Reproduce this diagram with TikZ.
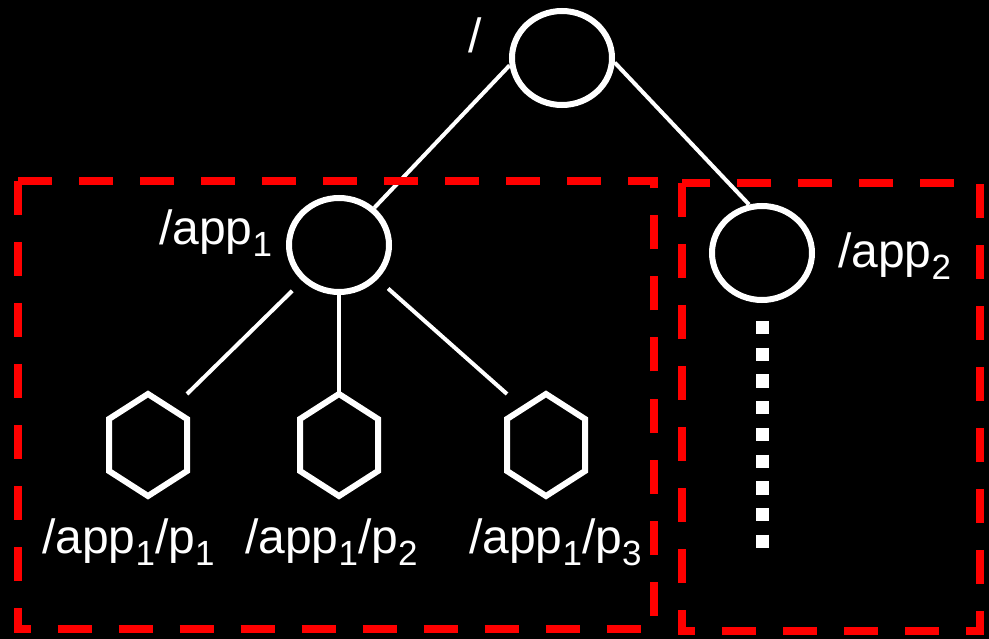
\documentclass[tikz,border=0pt]{standalone}
\usepackage{fontspec}
\setmainfont{Liberation Sans}
\usetikzlibrary{shapes.geometric}

% lowered index in the path labels
\newcommand{\subidx}[1]{\raisebox{-12pt}{\fontsize{35}{35}\selectfont #1}}

\begin{document}
\begin{tikzpicture}[
  x=1pt, y=-1pt,
  circ/.style={ellipse, draw=white, line width=6pt, minimum width=100pt, minimum height=94pt, inner sep=0pt},
  hexline/.style={draw=white, line width=6pt},
  hexbox/.style={minimum width=78pt, minimum height=102pt, inner sep=0pt, outer sep=0pt,
    append after command={(\tikzlastnode.north) -- ([yshift=-25pt]\tikzlastnode.north east)
      -- ([yshift=25pt]\tikzlastnode.south east) -- (\tikzlastnode.south)
      -- ([yshift=25pt]\tikzlastnode.south west) -- ([yshift=-25pt]\tikzlastnode.north west) -- cycle}},
  link/.style={draw=white, line width=4pt},
  dotline/.style={draw=white, line width=13pt, dash pattern=on 13.3pt off 13.4pt},
  groupbox/.style={draw=red, line width=8pt, dash pattern=on 34pt off 27pt},
  lbl/.style={text=white, inner sep=0pt, anchor=base west, font=\fontsize{48}{56}\selectfont}
]
  \useasboundingbox[fill=black] (0,0) rectangle (989,639);

  % tree
  \node[circ] (root) at (562,58) {};
  \node[circ] (app1) at (339,245) {};
  \node[circ] (app2) at (762,253) {};
  \draw[hexline] (148,445) node[hexbox] (p1) {};
  \draw[hexline] (339,445) node[hexbox] (p2) {};
  \draw[hexline] (546,445) node[hexbox] (p3) {};
  \coordinate (dotend) at (762,548);

  % labels
  \node[lbl] (lroot) at (468,53) {/};
  \node[lbl] (lapp1) at (159,245) {/app\subidx{1}};
  \node[lbl] (lapp2) at (838,268) {/app\subidx{2}};
  \node[lbl] (lp1) at (42,553) {/app\subidx{1}/p\subidx{1}};
  \node[lbl] (lp2) at (245,553) {/app\subidx{1}/p\subidx{2}};
  \node[lbl] (lp3) at (469,553) {/app\subidx{1}/p\subidx{3}};

  % links
  \draw[link] (root.188) -- (app1);
  \draw[link] (root.-5) -- (app2.105);
  \draw[link, shorten <=14pt] (app1) -- (p1.north east);
  \draw[link] (app1) -- (p2);
  \draw[link, shorten <=14pt] (app1) -- (p3.north west);
  \draw[dotline, shorten <=18pt] (app2) -- (dotend);

  % groups
  \draw[groupbox] (17.5,181) rectangle (654,629);
  \draw[groupbox] (682,183) rectangle (980,631);
\end{tikzpicture}
\end{document}
